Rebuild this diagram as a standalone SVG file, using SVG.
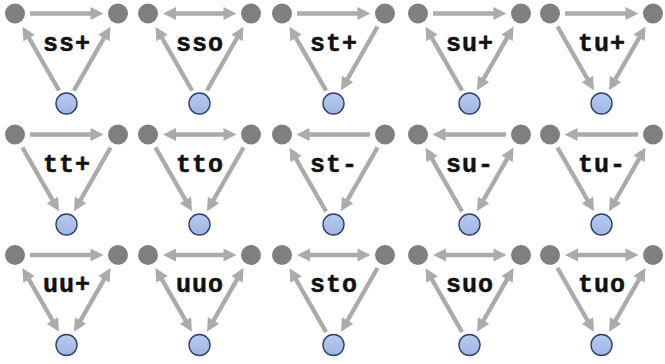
<svg xmlns="http://www.w3.org/2000/svg" xmlns:xlink="http://www.w3.org/1999/xlink" width="665" height="364" viewBox="0 0 665 364">
  <style>
    .lnk { fill: #ababab; }
    .top { fill: #7f7f7f; }
    .bot { fill: url(#blueFill); stroke: #2f3f70; stroke-width: 1.4; }
    .lbl { font-family: "Liberation Mono", "DejaVu Sans Mono", monospace; font-weight: bold; font-size: 25px; letter-spacing: 1px; fill: #111; stroke: #111; stroke-width: 0.5; text-anchor: middle; }
  </style>
  <defs>
    <linearGradient id="blueFill" x1="0" y1="0" x2="0" y2="1">
      <stop offset="0" stop-color="#b7cbf0"/>
      <stop offset="1" stop-color="#9fb6e2"/>
    </linearGradient>
    <!-- arrows drawn along +x from a node centre at 0 to the next node at ~103.5 -->
    <path id="one" d="M15,-2.2 H75.5 V-6.5 L88.5,0 L75.5,6.5 V2.2 H15 Z"/>
    <path id="two" d="M15,0 L28,-6.5 V-2.2 H75.5 V-6.5 L88.5,0 L75.5,6.5 V2.2 H28 V6.5 Z"/>
  </defs>

  <!-- Row 1 -->
  <g id="ssp" transform="translate(15,13.5)">
    <g class="lnk">
      <use xlink:href="#one"/>
      <use xlink:href="#one" transform="translate(51.5,90) rotate(-119.78)"/>
      <use xlink:href="#one" transform="translate(51.5,90) rotate(-60.22)"/>
    </g>
    <g id="ssp-a"><circle class="top" cx="0" cy="0" r="10"/></g>
    <g id="ssp-b"><circle class="top" cx="103" cy="0" r="10"/></g>
    <g id="ssp-c"><circle class="bot" cx="51.5" cy="90" r="10.5"/></g>
    <text class="lbl" x="52" y="37">ss+</text>
  </g>
  <g id="sso" transform="translate(148,13.5)">
    <g class="lnk">
      <use xlink:href="#two"/>
      <use xlink:href="#one" transform="translate(51.5,90) rotate(-119.78)"/>
      <use xlink:href="#one" transform="translate(51.5,90) rotate(-60.22)"/>
    </g>
    <g id="sso-a"><circle class="top" cx="0" cy="0" r="10"/></g>
    <g id="sso-b"><circle class="top" cx="103" cy="0" r="10"/></g>
    <g id="sso-c"><circle class="bot" cx="51.5" cy="90" r="10.5"/></g>
    <text class="lbl" x="52" y="37">sso</text>
  </g>
  <g id="stp" transform="translate(282,13.5)">
    <g class="lnk">
      <use xlink:href="#one"/>
      <use xlink:href="#one" transform="translate(103,0) rotate(119.78)"/>
      <use xlink:href="#one" transform="translate(51.5,90) rotate(-119.78)"/>
    </g>
    <g id="stp-a"><circle class="top" cx="0" cy="0" r="10"/></g>
    <g id="stp-b"><circle class="top" cx="103" cy="0" r="10"/></g>
    <g id="stp-c"><circle class="bot" cx="51.5" cy="90" r="10.5"/></g>
    <text class="lbl" x="52" y="37">st+</text>
  </g>
  <g id="sup" transform="translate(418,13.5)">
    <g class="lnk">
      <use xlink:href="#one"/>
      <use xlink:href="#one" transform="translate(51.5,90) rotate(-119.78)"/>
      <use xlink:href="#two" transform="translate(103,0) rotate(119.78)"/>
    </g>
    <g id="sup-a"><circle class="top" cx="0" cy="0" r="10"/></g>
    <g id="sup-b"><circle class="top" cx="103" cy="0" r="10"/></g>
    <g id="sup-c"><circle class="bot" cx="51.5" cy="90" r="10.5"/></g>
    <text class="lbl" x="52" y="37">su+</text>
  </g>
  <g id="tup" transform="translate(550,13.5)">
    <g class="lnk">
      <use xlink:href="#one"/>
      <use xlink:href="#one" transform="rotate(60.22)"/>
      <use xlink:href="#two" transform="translate(103,0) rotate(119.78)"/>
    </g>
    <g id="tup-a"><circle class="top" cx="0" cy="0" r="10"/></g>
    <g id="tup-b"><circle class="top" cx="103" cy="0" r="10"/></g>
    <g id="tup-c"><circle class="bot" cx="51.5" cy="90" r="10.5"/></g>
    <text class="lbl" x="52" y="37">tu+</text>
  </g>

  <!-- Row 2 -->
  <g id="ttp" transform="translate(15,134.5)">
    <g class="lnk">
      <use xlink:href="#one"/>
      <use xlink:href="#one" transform="rotate(60.22)"/>
      <use xlink:href="#one" transform="translate(103,0) rotate(119.78)"/>
    </g>
    <g id="ttp-a"><circle class="top" cx="0" cy="0" r="10"/></g>
    <g id="ttp-b"><circle class="top" cx="103" cy="0" r="10"/></g>
    <g id="ttp-c"><circle class="bot" cx="51.5" cy="90" r="10.5"/></g>
    <text class="lbl" x="52" y="37">tt+</text>
  </g>
  <g id="tto" transform="translate(148,134.5)">
    <g class="lnk">
      <use xlink:href="#two"/>
      <use xlink:href="#one" transform="rotate(60.22)"/>
      <use xlink:href="#one" transform="translate(103,0) rotate(119.78)"/>
    </g>
    <g id="tto-a"><circle class="top" cx="0" cy="0" r="10"/></g>
    <g id="tto-b"><circle class="top" cx="103" cy="0" r="10"/></g>
    <g id="tto-c"><circle class="bot" cx="51.5" cy="90" r="10.5"/></g>
    <text class="lbl" x="52" y="37">tto</text>
  </g>
  <g id="stm" transform="translate(282,134.5)">
    <g class="lnk">
      <use xlink:href="#one" transform="translate(103,0) rotate(180)"/>
      <use xlink:href="#one" transform="translate(103,0) rotate(119.78)"/>
      <use xlink:href="#one" transform="translate(51.5,90) rotate(-119.78)"/>
    </g>
    <g id="stm-a"><circle class="top" cx="0" cy="0" r="10"/></g>
    <g id="stm-b"><circle class="top" cx="103" cy="0" r="10"/></g>
    <g id="stm-c"><circle class="bot" cx="51.5" cy="90" r="10.5"/></g>
    <text class="lbl" x="52" y="37">st-</text>
  </g>
  <g id="sum" transform="translate(418,134.5)">
    <g class="lnk">
      <use xlink:href="#one" transform="translate(103,0) rotate(180)"/>
      <use xlink:href="#one" transform="translate(51.5,90) rotate(-119.78)"/>
      <use xlink:href="#two" transform="translate(103,0) rotate(119.78)"/>
    </g>
    <g id="sum-a"><circle class="top" cx="0" cy="0" r="10"/></g>
    <g id="sum-b"><circle class="top" cx="103" cy="0" r="10"/></g>
    <g id="sum-c"><circle class="bot" cx="51.5" cy="90" r="10.5"/></g>
    <text class="lbl" x="52" y="37">su-</text>
  </g>
  <g id="tum" transform="translate(550,134.5)">
    <g class="lnk">
      <use xlink:href="#one" transform="translate(103,0) rotate(180)"/>
      <use xlink:href="#one" transform="rotate(60.22)"/>
      <use xlink:href="#two" transform="translate(103,0) rotate(119.78)"/>
    </g>
    <g id="tum-a"><circle class="top" cx="0" cy="0" r="10"/></g>
    <g id="tum-b"><circle class="top" cx="103" cy="0" r="10"/></g>
    <g id="tum-c"><circle class="bot" cx="51.5" cy="90" r="10.5"/></g>
    <text class="lbl" x="52" y="37">tu-</text>
  </g>

  <!-- Row 3 -->
  <g id="uup" transform="translate(15,255)">
    <g class="lnk">
      <use xlink:href="#one"/>
      <use xlink:href="#two" transform="rotate(60.22)"/>
      <use xlink:href="#two" transform="translate(103,0) rotate(119.78)"/>
    </g>
    <g id="uup-a"><circle class="top" cx="0" cy="0" r="10"/></g>
    <g id="uup-b"><circle class="top" cx="103" cy="0" r="10"/></g>
    <g id="uup-c"><circle class="bot" cx="51.5" cy="90" r="10.5"/></g>
    <text class="lbl" x="52" y="37">uu+</text>
  </g>
  <g id="uuo" transform="translate(148,255)">
    <g class="lnk">
      <use xlink:href="#two"/>
      <use xlink:href="#two" transform="rotate(60.22)"/>
      <use xlink:href="#two" transform="translate(103,0) rotate(119.78)"/>
    </g>
    <g id="uuo-a"><circle class="top" cx="0" cy="0" r="10"/></g>
    <g id="uuo-b"><circle class="top" cx="103" cy="0" r="10"/></g>
    <g id="uuo-c"><circle class="bot" cx="51.5" cy="90" r="10.5"/></g>
    <text class="lbl" x="52" y="37">uuo</text>
  </g>
  <g id="sto" transform="translate(282,255)">
    <g class="lnk">
      <use xlink:href="#two"/>
      <use xlink:href="#one" transform="translate(51.5,90) rotate(-119.78)"/>
      <use xlink:href="#one" transform="translate(103,0) rotate(119.78)"/>
    </g>
    <g id="sto-a"><circle class="top" cx="0" cy="0" r="10"/></g>
    <g id="sto-b"><circle class="top" cx="103" cy="0" r="10"/></g>
    <g id="sto-c"><circle class="bot" cx="51.5" cy="90" r="10.5"/></g>
    <text class="lbl" x="52" y="37">sto</text>
  </g>
  <g id="suo" transform="translate(418,255)">
    <g class="lnk">
      <use xlink:href="#two"/>
      <use xlink:href="#one" transform="translate(51.5,90) rotate(-119.78)"/>
      <use xlink:href="#two" transform="translate(103,0) rotate(119.78)"/>
    </g>
    <g id="suo-a"><circle class="top" cx="0" cy="0" r="10"/></g>
    <g id="suo-b"><circle class="top" cx="103" cy="0" r="10"/></g>
    <g id="suo-c"><circle class="bot" cx="51.5" cy="90" r="10.5"/></g>
    <text class="lbl" x="52" y="37">suo</text>
  </g>
  <g id="tuo" transform="translate(550,255)">
    <g class="lnk">
      <use xlink:href="#two"/>
      <use xlink:href="#one" transform="rotate(60.22)"/>
      <use xlink:href="#two" transform="translate(103,0) rotate(119.78)"/>
    </g>
    <g id="tuo-a"><circle class="top" cx="0" cy="0" r="10"/></g>
    <g id="tuo-b"><circle class="top" cx="103" cy="0" r="10"/></g>
    <g id="tuo-c"><circle class="bot" cx="51.5" cy="90" r="10.5"/></g>
    <text class="lbl" x="52" y="37">tuo</text>
  </g>
</svg>
